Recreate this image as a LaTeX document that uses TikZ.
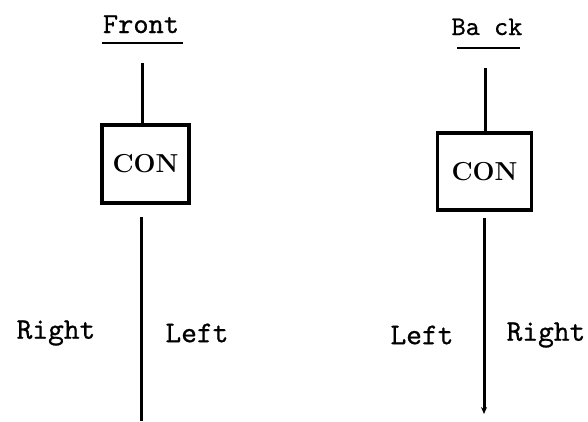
\documentclass[tikz,border=0pt]{standalone}
\usepackage{fontspec}
\setmonofont{lmmono10-regular}[Extension=.otf, FakeBold=0.7]
\usetikzlibrary{arrows.meta}
\begin{document}
\begin{tikzpicture}[x=1pt,y=-1pt,
  lbl/.style={font=\fontsize{30}{34}\selectfont\ttfamily, inner sep=0pt},
  ttl/.style={font=\fontsize{29}{34}\selectfont\ttfamily, inner sep=0pt, anchor=base},
  conbox/.style={draw, line width=3.2pt, font=\fontsize{26}{30}\selectfont\bfseries, inner sep=0pt},
  wire/.style={line width=3pt},
  uline/.style={line width=2.4pt}]
\useasboundingbox (0,0) rectangle (588,421);
% Front
\node[ttl] (ftitle) at (141,33) {Front};
\coordinate (fu1) at (102,43);
\coordinate (fu2) at (183,43);
\draw[uline] (fu1) -- (fu2);
\node[conbox, minimum width=87pt, minimum height=78pt] (fbox) at (145.5,164) {CON};
\coordinate (ftop) at (142,63);
\draw[wire] (ftop) -- (ftop |- fbox.north);
\coordinate (fb1) at (141,217);
\coordinate (fend) at (141,421);
\draw[wire] (fb1) -- (fend);
\node[lbl] (fright) at (56,333) {Right};
\node[lbl] (fleft) at (197,333) {Left};
% Back
\node[ttl, font=\fontsize{27}{31}\selectfont\ttfamily] (btitle) at (487,35) {Ba ck};
\coordinate (bu1) at (457,48);
\coordinate (bu2) at (520,48);
\draw[uline] (bu1) -- (bu2);
\node[conbox, minimum width=94pt, minimum height=77pt] (bbox) at (484.5,171.5) {CON};
\coordinate (btop) at (485,68);
\draw[wire] (btop) -- (btop |- bbox.north);
\coordinate (bb1) at (484,218);
\coordinate (bend) at (484,414);
\draw[wire, -{Stealth[length=7pt,width=6pt]}] (bb1) -- (bend);
\node[lbl] (bleft) at (422,335) {Left};
\node[lbl] (bright) at (546,335) {Right};
\end{tikzpicture}
\end{document}
